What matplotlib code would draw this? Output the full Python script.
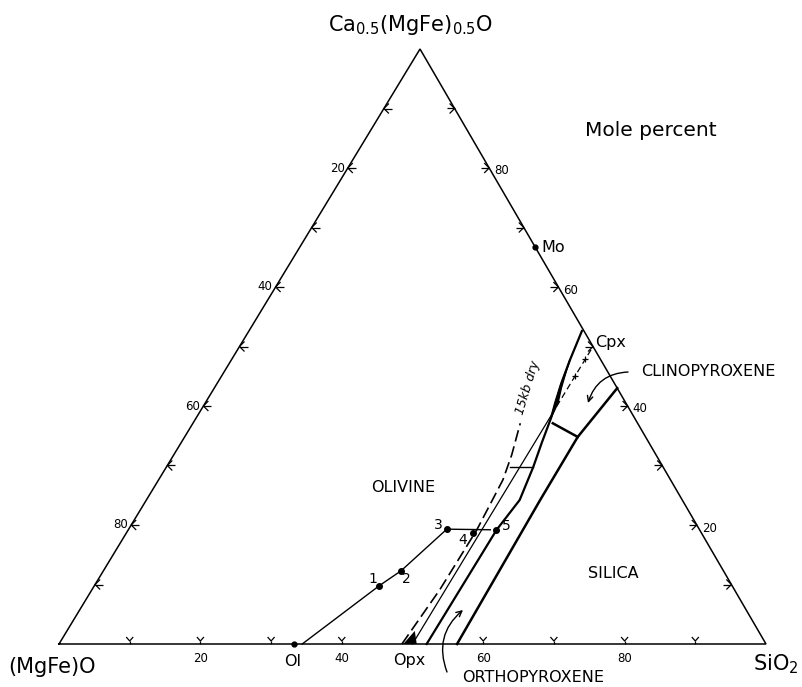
#!/usr/bin/env python

import matplotlib.pyplot as plt
import numpy as np

# Corners of the triangle, figure pixels: (MgFe)O, Ca0.5(MgFe)0.5O, SiO2
V_MGO = (59., 644.)
V_CA = (420., 49.)
V_SI = (766., 644.)

# All compositions below are mole percent (Ca component, SiO2)
tick_values = [10, 20, 30, 40, 50, 60, 70, 80, 90]
label_values = [20, 40, 60, 80]

# olivine tie line through the experimental points
ol_line_ca = [0.0, 9.8, 12.3, 19.3]
ol_line_si = [34.4, 40.3, 42.1, 45.0]
point_names = ['1', '2', '3', '4', '5']
point_ca = [9.8, 12.3, 19.3, 18.6, 19.2]
point_si = [40.3, 42.1, 45.0, 49.0, 52.0]
tie3_ca = [19.3, 19.2]
tie3_si = [45.0, 51.2]
tie_upper_ca = [29.7, 29.7]
tie_upper_si = [48.6, 51.9]

# phase compositions
ol_comp = (0.0, 33.3)
opx_comp = (0.0, 50.0)
mo_comp = (66.7, 33.3)

# 15 kb dry olivine/pyroxene boundary
dry15_ca = [0.0, 9.1, 19.2, 27.6, 31.8, 37.1]
dry15_si = [48.5, 49.2, 49.3, 48.7, 47.8, 46.3]

# Opx-Cpx join
join_ca = [0.0, 38.5]
join_si = [50.0, 50.0]
join_dash_ca = [38.5, 49.5]
join_dash_si = [50.0, 50.0]
join_marks_ca = [45.0, 47.9]
join_marks_si = [50.0, 50.0]

# olivine / pyroxene boundary up to the Cpx corner
ol_px_ca = [0.0, 19.2, 24.2, 29.7, 33.9, 38.0, 40.5, 43.7, 47.7, 52.6]
ol_px_si = [52.0, 52.1, 52.8, 51.9, 51.0, 50.2, 49.5, 48.7, 47.9, 47.1]
lens_ca = [38.0, 40.5, 43.0, 46.0]
lens_si = [50.2, 49.9, 49.1, 48.3]

# pyroxene / silica boundary
px_si_ca = [0.0, 24.2, 34.8, 43.0]
px_si_si = [56.3, 55.7, 55.6, 57.0]

# Opx / Cpx boundary
opx_cpx_ca = [37.1, 34.8]
opx_cpx_si = [50.9, 55.6]

# small wedge at the Opx end of the base
wedge_ca = [0.0, 0.0, 2.2]
wedge_si = [48.7, 50.6, 49.2]


def tern(ca, si):
    ca = np.asarray(ca, dtype=float) / 100.
    si = np.asarray(si, dtype=float) / 100.
    mg = 1. - ca - si
    x = mg * V_MGO[0] + ca * V_CA[0] + si * V_SI[0]
    y = mg * V_MGO[1] + ca * V_CA[1] + si * V_SI[1]
    return x, y


def draw_ticks(ax):
    kw = dict(color='k', lw=0.9, solid_capstyle='butt')
    for v in tick_values:
        # base ticks
        if v != 50:
            x, y = tern(0, v)
            ax.plot([x, x], [y, y - 3], **kw)
            ax.plot([x - 3.5, x, x + 3.5], [y - 7, y - 3, y - 7], **kw)
        # left edge, arrow pointing out
        x, y = tern(v, 0)
        ax.plot([x + 5, x, x + 5], [y - 5, y, y + 5], **kw)
        ax.plot([x, x + 8], [y, y], **kw)
        # right edge
        x, y = tern(v, 100 - v)
        ax.plot([x - 5, x, x - 5], [y - 5, y, y + 5], **kw)
        ax.plot([x, x - 8], [y, y], **kw)

    for v in label_values:
        x, y = tern(0, v)
        ax.text(x, y + 15, str(v), ha='center', va='center', fontsize=8.5)
        x, y = tern(100 - v, 0)
        ax.text(x - 3, y, str(v), ha='right', va='center', fontsize=8.5)
        x, y = tern(v, 100 - v)
        ax.text(x + 5, y + 3, str(v), ha='left', va='center', fontsize=8.5)


def main():
    fig = plt.figure(figsize=(8.02, 6.87), dpi=100)
    ax = fig.add_axes([0, 0, 1, 1])
    ax.set_xlim(0, 802)
    ax.set_ylim(687, 0)
    ax.axis('off')

    # triangle
    xs, ys = tern([0, 100, 0, 0], [0, 0, 100, 0])
    ax.plot(xs, ys, color='k', lw=1.1, solid_joinstyle='miter')
    draw_ticks(ax)

    # boundary curves
    ax.plot(*tern(ol_px_ca, ol_px_si), color='k', lw=1.6)
    ax.fill(*tern(ol_px_ca[5:9] + lens_ca[::-1], ol_px_si[5:9] + lens_si[::-1]),
            color='k', lw=1.0)
    ax.plot(*tern(px_si_ca, px_si_si), color='k', lw=1.8)
    ax.plot(*tern(opx_cpx_ca, opx_cpx_si), color='k', lw=1.8)
    ax.plot(*tern(dry15_ca, dry15_si), color='k', lw=1.2,
            linestyle=(0, (7, 3)))
    ax.plot(*tern(join_ca, join_si), color='k', lw=0.9)
    ax.plot(*tern(join_dash_ca, join_dash_si), color='k', lw=0.9,
            linestyle=(0, (5, 3)))
    ax.plot(*tern(join_marks_ca, join_marks_si), '+', color='k', ms=5,
            mew=0.9)
    ax.fill(*tern(wedge_ca, wedge_si), color='k', lw=0)

    # tie lines and points
    ax.plot(*tern(ol_line_ca, ol_line_si), color='k', lw=1.0)
    ax.plot(*tern(tie3_ca, tie3_si), color='k', lw=1.0)
    ax.plot(*tern(tie_upper_ca, tie_upper_si), color='k', lw=1.0)
    ax.plot(*tern(point_ca, point_si), 'o', color='k', ms=4)
    ax.plot(*tern(*ol_comp), 'o', color='k', ms=3.5)
    ax.plot(*tern(*mo_comp), 'o', color='k', ms=3.5)

    label_offsets = {'1': (-6, -7), '2': (5, 8), '3': (-9, -4),
                     '4': (-10, 7), '5': (10, -4)}
    for name, ca, si in zip(point_names, point_ca, point_si):
        x, y = tern(ca, si)
        dx, dy = label_offsets[name]
        ax.text(x + dx, y + dy, name, ha='center', va='center', fontsize=10)

    # vertex and phase labels
    ax.text(411, 25, r'Ca$_{\mathrm{0.5}}$(MgFe)$_{\mathrm{0.5}}$O',
            ha='center', va='center', fontsize=15)
    ax.text(52, 667, '(MgFe)O', ha='center', va='center', fontsize=15)
    ax.text(776, 664, r'SiO$_2$', ha='center', va='center', fontsize=15)
    ax.text(651, 130, 'Mole percent', ha='center', va='center', fontsize=14.5)

    x, y = tern(*ol_comp)
    ax.text(x - 2, 661, 'Ol', ha='center', va='center', fontsize=11.5)
    x, y = tern(*opx_comp)
    ax.text(x - 3, 661, 'Opx', ha='center', va='center', fontsize=11.5)
    x, y = tern(*mo_comp)
    ax.text(x + 6, y, 'Mo', ha='left', va='center', fontsize=11.5)
    ax.text(611, 342, 'Cpx', ha='center', va='center', fontsize=11.5)

    ax.text(403, 488, 'OLIVINE', ha='center', va='center', fontsize=11.5)
    ax.text(613, 574, 'SILICA', ha='center', va='center', fontsize=11.5)
    ax.text(708, 372, 'CLINOPYROXENE', ha='center', va='center',
            fontsize=11.5)
    ax.text(533, 678, 'ORTHOPYROXENE', ha='center', va='center',
            fontsize=11.5)
    ax.text(528, 388, '15kb dry', ha='center', va='center', fontsize=9,
            style='italic', rotation=73)

    ax.annotate('', xy=(463, 610), xytext=(447, 672),
                arrowprops=dict(arrowstyle='->', lw=1.0, color='k',
                                connectionstyle='arc3,rad=-0.35',
                                shrinkA=0, shrinkB=0))
    ax.annotate('', xy=(588, 403), xytext=(628, 372),
                arrowprops=dict(arrowstyle='->', lw=1.0, color='k',
                                connectionstyle='arc3,rad=0.35',
                                shrinkA=0, shrinkB=0))

    fig.savefig('out.png', dpi=100)


if __name__ == '__main__':
    main()
